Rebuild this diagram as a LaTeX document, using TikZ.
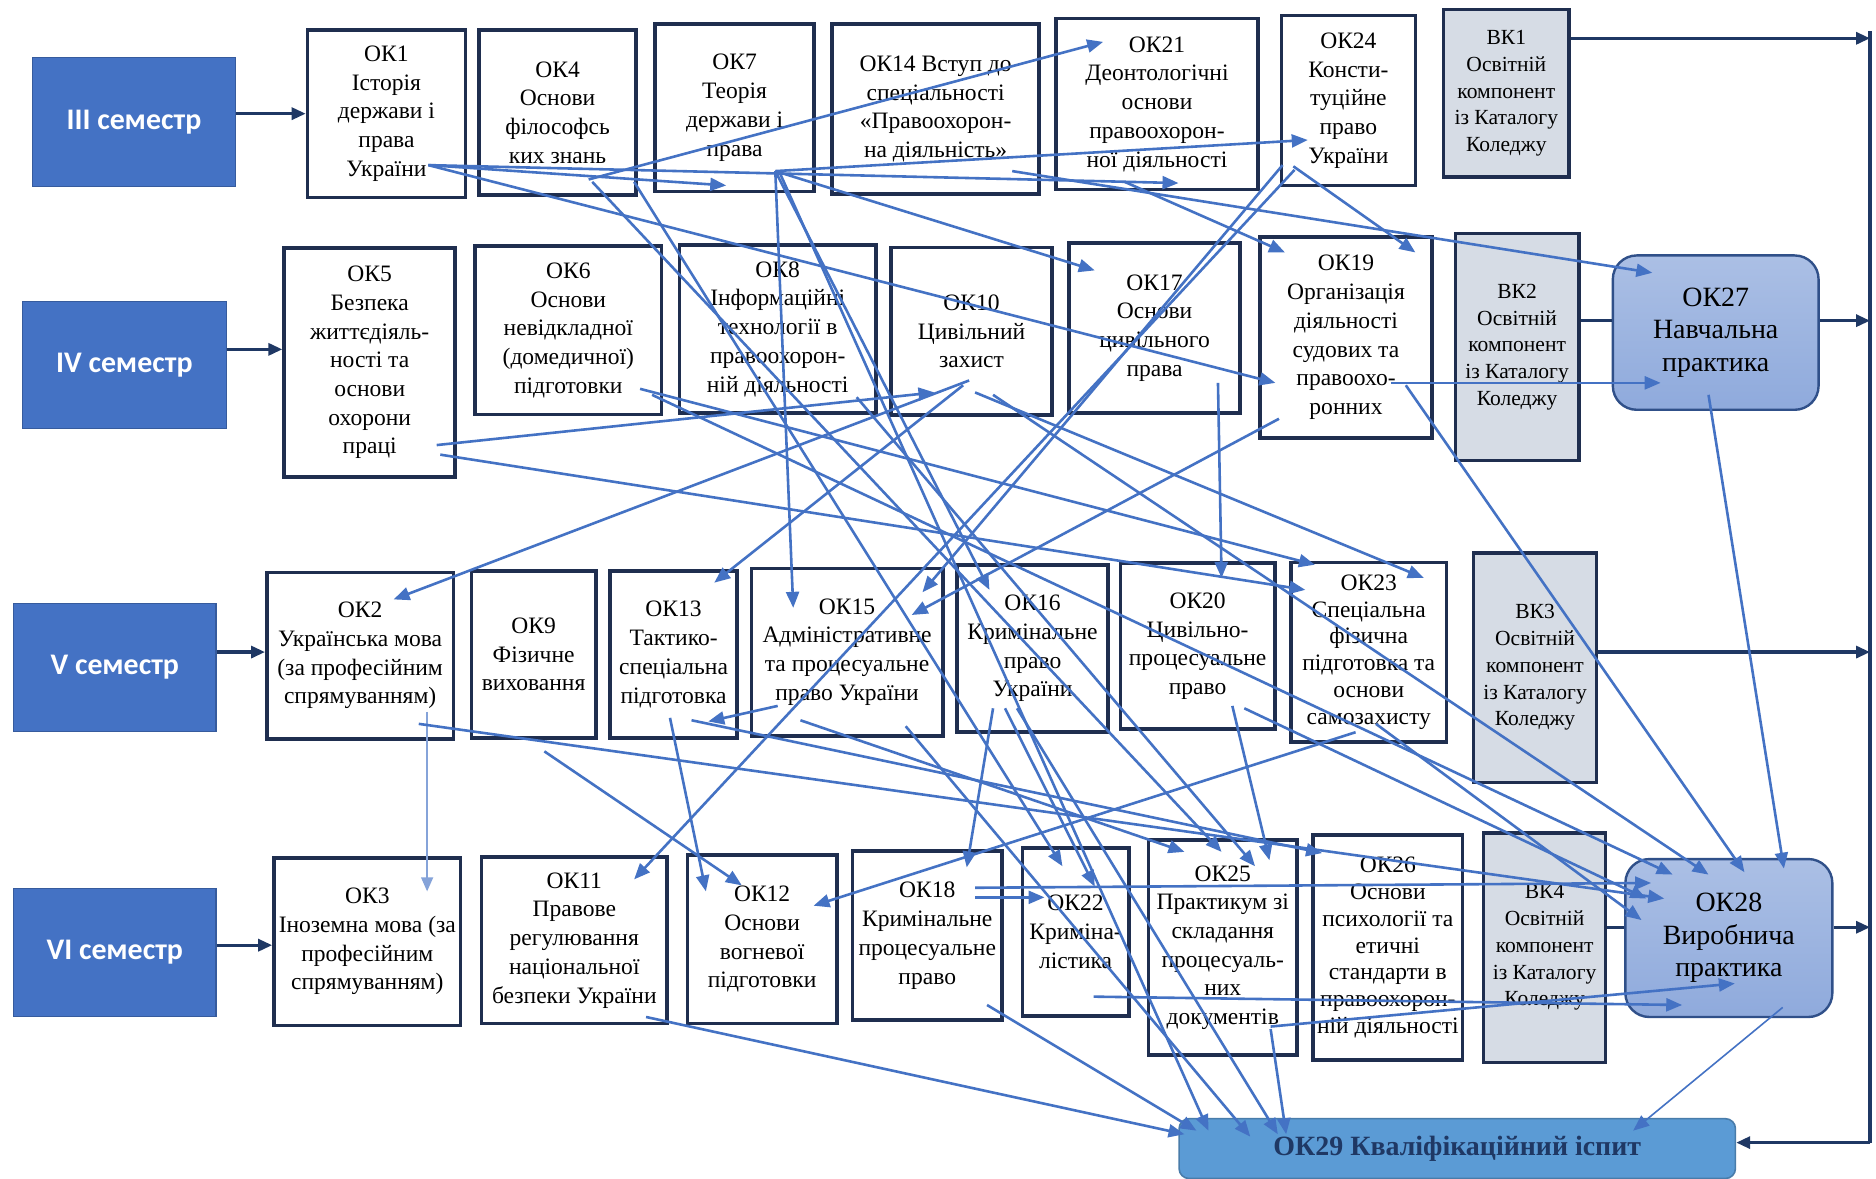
\documentclass[tikz,border=0pt]{standalone}
\usepackage{fontspec}
\setmainfont{Liberation Serif}
\newfontfamily\semfont{Carlito}
\usetikzlibrary{arrows.meta,calc}
\definecolor{navy}{HTML}{1F2E4F}
\definecolor{semblue}{HTML}{4472C4}
\definecolor{conblue}{HTML}{4472C4}
\definecolor{grayfill}{HTML}{D6DCE5}
\definecolor{pracfill}{HTML}{8FAADC}
\definecolor{examfill}{HTML}{5B9BD5}
\definecolor{darknavy}{HTML}{1F3864}
\newcommand{\lnkx}[5][]{\draw[con,#1] ([shift={(#3)}]#2.center) -- ([shift={(#5)}]#4.center);}
\begin{document}
\begin{tikzpicture}[x=0.6pt,y=-0.6pt,
 bx/.style 2 args={minimum width=#1*0.6pt, minimum height=#2*0.6pt},
 okbox/.style={draw=navy, line width=1.8pt, fill=white, align=center, inner sep=0pt, font=\rmfamily\fontsize{11.8}{14.4}\selectfont},
 vkbox/.style={okbox, fill=grayfill, font=\rmfamily\fontsize{10.8}{13.4}\selectfont},
 sembox/.style={draw=semblue!80!black, line width=0.6pt, fill=semblue, text=white, inner sep=0pt, font=\semfont\bfseries\fontsize{15}{18}\selectfont},
 pracbox/.style={draw=semblue!70!black, line width=1.2pt, rounded corners=12pt, top color=pracfill!75!white, bottom color=pracfill, align=center, inner sep=0pt, font=\rmfamily\fontsize{14}{16.3}\selectfont},
 exambox/.style={draw=examfill!80!black, line width=0.8pt, rounded corners=5pt, fill=examfill, text=darknavy, inner sep=0pt, font=\rmfamily\bfseries\fontsize{14}{16}\selectfont},
 con/.style={draw=conblue, line width=1.3pt, -{Triangle[length=8pt,width=6.5pt]}},
 thincon/.style={draw=conblue!65!white, line width=0.7pt, -{Triangle[length=7pt,width=6pt]}},
 navyarr/.style={draw=darknavy, line width=1.6pt, -{Triangle[length=7pt,width=6pt]}},
 navyline/.style={draw=darknavy, line width=1.6pt},
]
\fill[white] (0,0) rectangle (1568,985);
\useasboundingbox (0,0) rectangle (1568,985);

% semester boxes
\node[sembox, bx={170}{108}] (sem3) at (112,102) {III семестр};
\node[sembox, bx={170}{106}] (sem4) at (104,305) {IV семестр};
\node[sembox, bx={169}{107}] (sem5) at (96,558) {V семестр};
\node[sembox, bx={169}{107}] (sem6) at (96,796) {VI семестр};

% row III
\node[okbox, bx={132}{140}] (ok1) at (323,95) {ОК1\\Історія\\держави і\\права\\України};
\node[okbox, bx={131}{138}] (ok4) at (466,94) {ОК4\\Основи\\філософсь\\ких знань};
\node[okbox, bx={133}{140}] (ok7) at (614,90) {ОК7\\Теорія\\держави і\\права};
\node[okbox, bx={173}{142}] (ok14) at (782,91) {ОК14 Вступ до\\спеціальності\\«Правоохорон-\\на діяльність»};
\node[okbox, bx={169}{143}] (ok21) at (967,87) {ОК21\\Деонтологічні\\основи\\правоохорон-\\ної діяльності};
\node[okbox, bx={112}{142}] (ok24) at (1127,84) {ОК24\\Консти-\\туційне\\право\\України};
\node[vkbox, bx={105}{140}] (vk1) at (1259,78) {ВК1\\Освітній\\компонент\\із Каталогу\\Коледжу};

% row IV
\node[okbox, bx={143}{191}] (ok5) at (309,303) {ОК5\\Безпека\\життєдіяль-\\ності та\\основи\\охорони\\праці};
\node[okbox, bx={156}{141}] (ok6) at (475,276) {ОК6\\Основи\\невідкладної\\(домедичної)\\підготовки};
\node[okbox, bx={164}{140}] (ok8) at (650,275) {ОК8\\Інформаційні\\технології в\\правоохорон-\\ній діяльності};
\node[okbox, bx={135}{140}] (ok10) at (812,277) {ОК10\\Цивільний\\захист};
\node[okbox, bx={143}{142}] (ok17) at (965,274) {ОК17\\Основи\\цивільного\\права};
\node[okbox, bx={144}{168}] (ok19) at (1125,282) {ОК19\\Організація\\діяльності\\судових та\\правоохо-\\ронних};
\node[vkbox, bx={103}{190}] (vk2) at (1268,290) {ВК2\\Освітній\\компонент\\із Каталогу\\Коледжу};
\node[pracbox, bx={172}{129}] (ok27) at (1434,278) {ОК27\\Навчальна\\практика};

% row V
\node[okbox, bx={156}{139}] (ok2) at (301,548) {ОК2\\Українська мова\\(за професійним\\спрямуванням)};
\node[okbox, bx={104}{140}] (ok9) at (446,547) {ОК9\\Фізичне\\виховання};
\node[okbox, bx={106}{140}] (ok13) at (563,547) {ОК13\\Тактико-\\спеціальна\\підготовка};
\node[okbox, bx={160}{140}] (ok15) at (708,545) {ОК15\\Адміністративне\\та процесуальне\\право України};
\node[okbox, bx={126}{140}] (ok16) at (863,542) {ОК16\\Кримінальне\\право\\України};
\node[okbox, bx={129}{139}] (ok20) at (1001,540) {ОК20\\Цивільно-\\процесуальне\\право};
\node[okbox, bx={130}{150}, font=\rmfamily\fontsize{11.8}{13.4}\selectfont] (ok23) at (1144,545) {ОК23\\Спеціальна\\фізична\\підготовка та\\основи\\самозахисту};
\node[vkbox, bx={103}{192}] (vk3) at (1283,558) {ВК3\\Освітній\\компонент\\із Каталогу\\Коледжу};

% row VI
\node[okbox, bx={156}{140}] (ok3) at (307,787) {ОК3\\Іноземна мова (за\\професійним\\спрямуванням)};
\node[okbox, bx={155}{139}] (ok11) at (480,786) {ОК11\\Правове\\регулювання\\національної\\безпеки України};
\node[okbox, bx={125}{141}] (ok12) at (637,785) {ОК12\\Основи\\вогневої\\підготовки};
\node[okbox, bx={125}{141}] (ok18) at (775,782) {ОК18\\Кримінальне\\процесуальне\\право};
\node[okbox, bx={89}{140}] (ok22) at (899,779) {ОК22\\Криміна-\\лістика};
\node[okbox, bx={124}{180}] (ok25) at (1022,792) {ОК25\\Практикум зі\\складання\\процесуаль-\\них\\документів};
\node[okbox, bx={125}{188}, font=\rmfamily\fontsize{11.8}{13.4}\selectfont] (ok26) at (1160,792) {ОК26\\Основи\\психології та\\етичні\\стандарти в\\правоохорон-\\ній діяльності};
\node[vkbox, bx={102}{192}] (vk4) at (1291,792) {ВК4\\Освітній\\компонент\\із Каталогу\\Коледжу};
\node[pracbox, bx={173}{132}] (ok28) at (1445,784) {ОК28\\Виробнича\\практика};
\node[exambox, bx={465}{50}] (ok29) at (1218,960) {ОК29 Кваліфікаційний іспит};

% semester arrows
\draw[navyarr] (sem3.east |- 0,95) -- (ok1.west |- 0,95);
\draw[navyarr] (sem4.east |- 0,292) -- (ok5.west |- 0,292);
\draw[navyarr] (sem5.east |- 0,545) -- (ok2.west |- 0,545);
\draw[navyarr] (sem6.east |- 0,790) -- (ok3.west |- 0,790);

% right bus
\coordinate (busT) at (1563,26);
\coordinate (busB) at (1563,955);
\draw[navyline] (busT) -- (busB);
\draw[navyarr] (vk1.east |- 0,32) -- (busT |- 0,32);
\draw[navyline] (vk2.east |- 0,268) -- (ok27.west |- 0,268);
\draw[navyarr] (ok27.east |- 0,268) -- (busT |- 0,268);
\draw[navyarr] (vk3.east |- 0,545) -- (busT |- 0,545);
\draw[navyline] (vk4.east |- 0,775) -- (ok28.west |- 0,775);
\draw[navyarr] (ok28.east |- 0,775) -- (busT |- 0,775);
\draw[navyarr] (busB) -- (ok29.east |- busB);

% connectors
\lnkx{ok1}{35,43}{ok7}{-7,65}
\lnkx{ok1}{35,43}{ok21}{18,66}
\lnkx{ok1}{35,43}{ok19}{-59,38}
\lnkx{ok4}{26,56}{ok21}{-45,-52}
\lnkx{ok4}{64,58}{ok22}{-11,-55}
\lnkx{ok4}{29,58}{ok25}{-1,-80}
\lnkx{ok7}{34,53}{ok24}{-34,33}
\lnkx{ok7}{34,53}{ok15}{-45,-37}
\lnkx{ok7}{34,53}{ok16}{-36,-49}
\lnkx{ok7}{34,53}{ok17}{-50,-48}
\lnkx{ok7}{38,55}{ok29}{-208,-15}
\lnkx{ok14}{64,52}{ok27}{-53,-50}
\lnkx{ok21}{-27,65}{ok19}{-51,-71}
\lnkx{ok24}{-46,55}{ok19}{58,-71}
\lnkx{ok24}{-55,54}{ok15}{63,-50}
\lnkx{ok24}{-45,58}{ok11}{50,-51}
\lnkx{ok5}{56,69}{ok10}{-31,51}
\lnkx{ok5}{59,77}{ok23}{-53,-52}
\lnkx{ok6}{60,49}{ok23}{-45,-73}
\lnkx{ok6}{70,54}{ok28}{-47,-53}
\lnkx{ok8}{66,57}{ok25}{27,-68}
\lnkx{ok10}{-2,41}{ok2}{28,-47}
\lnkx{ok10}{-7,45}{ok13}{34,-60}
\lnkx{ok10}{3,51}{ok23}{46,-62}
\lnkx{ok10}{18,53}{ok28}{-17,-53}
\lnkx{ok17}{53,46}{ok20}{20,-57}
\lnkx{ok19}{38,38}{ok27}{-46,42}
\lnkx{ok19}{50,40}{ok28}{13,-55}
\lnkx{ok19}{-56,68}{ok15}{54,-31}
\lnkx{ok27}{-6,52}{ok28}{46,-58}
\draw[thincon] ([shift={(56,47)}]ok2.center) -- ([shift={(50,-42)}]ok3.center);
\lnkx{ok2}{49,57}{ok28}{-54,-33}
\lnkx{ok9}{9,81}{ok12}{-17,-45}
\lnkx{ok13}{-3,53}{ok12}{-47,-40}
\lnkx{ok13}{15,55}{ok26}{-55,-79}
\lnkx{ok15}{-58,45}{ok13}{29,56}
\lnkx{ok15}{-39,57}{ok25}{-32,-80}
\lnkx{ok15}{49,62}{ok29}{-173,-10}
\lnkx{ok16}{-33,50}{ok18}{33,-57}
\lnkx{ok16}{-23,50}{ok22}{16,-38}
\lnkx{ok16}{-13,50}{ok29}{-150,-12}
\lnkx{ok20}{29,50}{ok25}{39,-73}
\lnkx{ok20}{39,52}{ok28}{-69,-33}
\lnkx{ok23}{-11,67}{ok12}{43,-28}
\lnkx{ok23}{6,60}{ok28}{-73,-15}
\lnkx{ok18}{40,-40}{ok28}{-65,-46}
\lnkx{ok18}{40,-32}{ok22}{-26,-29}
\lnkx{ok18}{50,58}{ok29}{-218,-15}
\lnkx{ok11}{60,64}{ok29}{-228,-12}
\lnkx{ok22}{15,54}{ok28}{-39,56}
\lnkx{ok25}{40,66}{ok28}{5,38}
\lnkx{ok25}{40,68}{ok29}{-143,-12}
\lnkx[line width=0.8pt]{ok28}{45,58}{ok29}{147,-15}
\end{tikzpicture}
\end{document}
